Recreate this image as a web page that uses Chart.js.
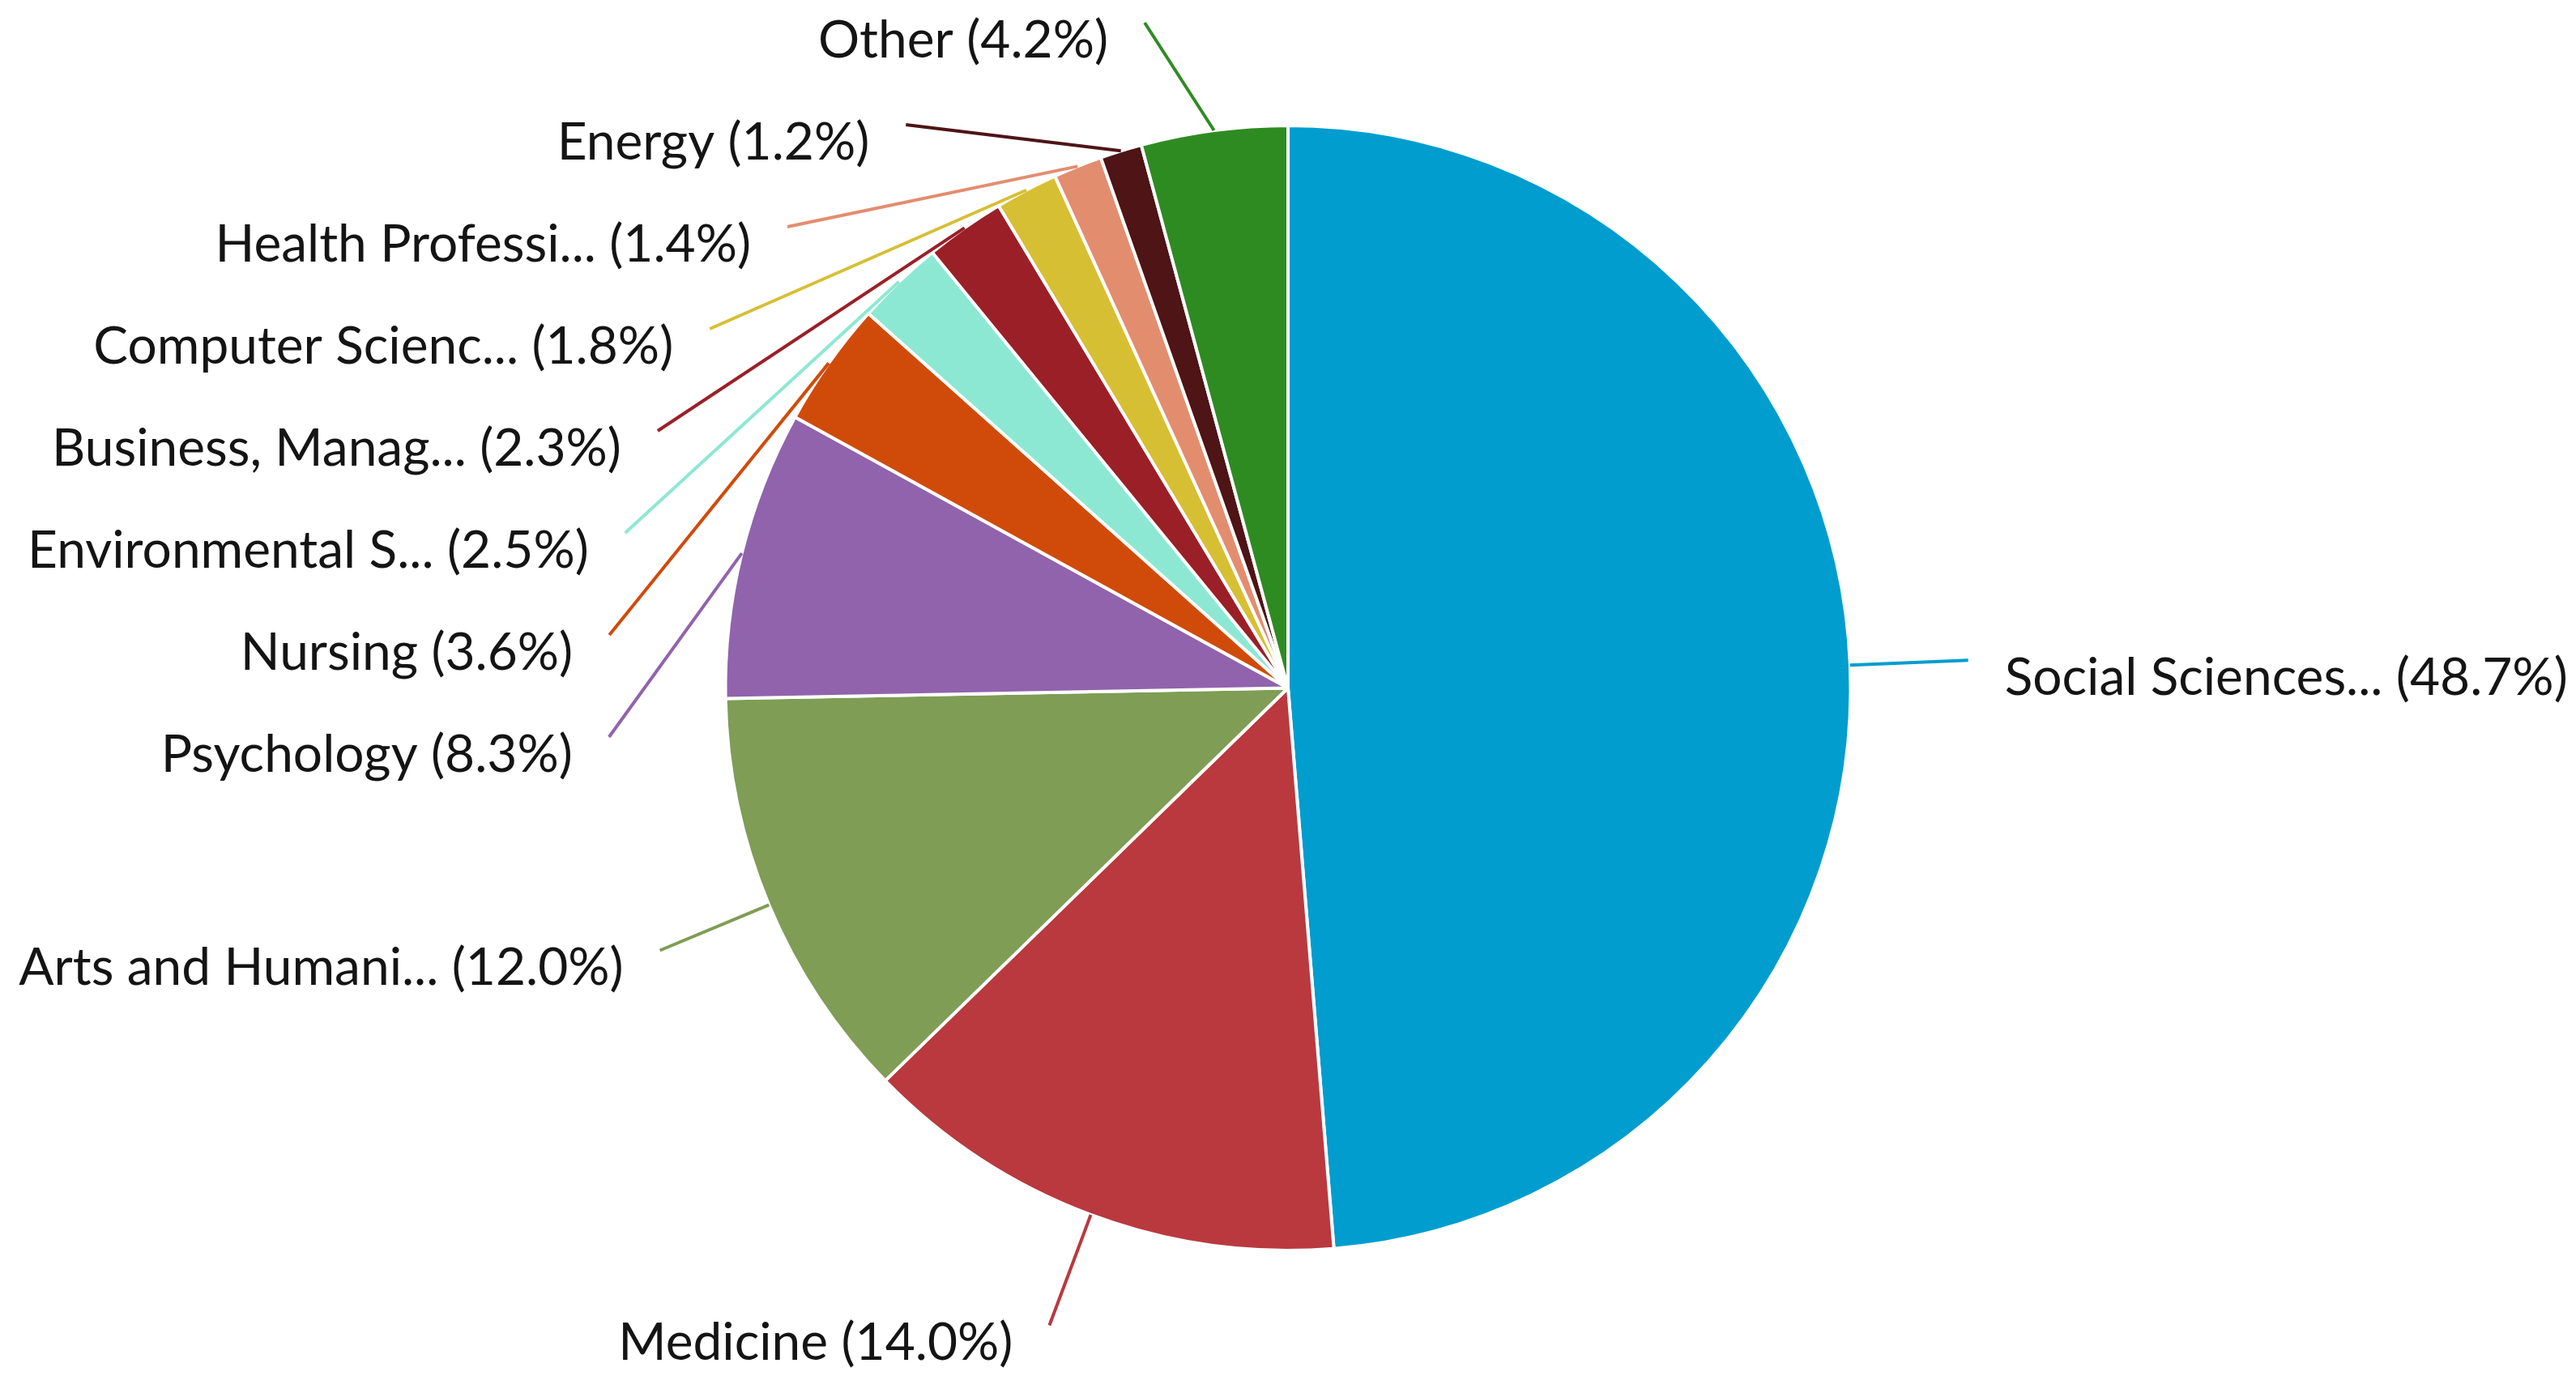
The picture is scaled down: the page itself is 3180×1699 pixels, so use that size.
<!DOCTYPE html>
<html>
<head>
<meta charset="utf-8">
<script src="https://cdn.jsdelivr.net/npm/chart.js@4"></script>
<style>
  html, body { margin: 0; padding: 0; background: #fff; overflow: hidden; }
  #subjectChart { display: block; }
</style>
</head>
<body>
<canvas id="subjectChart" width="3180" height="1699"></canvas>
<script>
// subject areas, clockwise from 12 o'clock
const labels = [
    'Social Sciences...', 'Medicine', 'Arts and Humani...', 'Psychology', 'Nursing',
    'Environmental S...', 'Business, Manag...', 'Computer Scienc...', 'Health Professi...',
    'Energy', 'Other'
];
const shares = [48.7, 14.0, 12.0, 8.3, 3.6, 2.5, 2.3, 1.8, 1.4, 1.2, 4.2];
const colors = [
    '#009dce', '#b9393e', '#7f9d55', '#9163ad', '#d04b0a',
    '#8de8d3', '#9b1f27', '#d7bf34', '#e38d6f', '#4e1416', '#2e8b22'
];

// draws "name (x.x%)" outside each slice with a leader line
const outsideLabels = {
    id: 'outsideLabels',
    afterDraw(chart) {
        const ctx = chart.ctx;
        const arcs = chart.getDatasetMeta(0).data;
        const gap = 126;       // min vertical distance between labels
        const minY = 28;
        const items = arcs.map((arc, i) => {
            const mid = (arc.startAngle + arc.endAngle) / 2;
            const r = arc.outerRadius;
            const lr = r * 1.21;
            return {
                i, arc, mid, lr,
                ex: arc.x + Math.cos(mid) * r,
                ey: arc.y + Math.sin(mid) * r,
                y: arc.y + Math.sin(mid) * lr,
                right: Math.cos(mid) >= 0
            };
        });

        [true, false].forEach(side => {
            const group = items.filter(d => d.right === side).sort((a, b) => a.y - b.y);
            let prev = -Infinity;
            group.forEach(d => {
                d.y = Math.max(d.y, prev + gap, minY);
                prev = d.y;
            });
        });

        ctx.save();
        ctx.font = '64px Lato, "Open Sans", sans-serif';
        ctx.textBaseline = 'middle';
        items.forEach(d => {
            const dy = d.y - d.arc.y;
            const dx = Math.sqrt(Math.max(d.lr * d.lr - dy * dy, 0));
            const lx = d.right ? d.arc.x + dx : d.arc.x - dx;

            ctx.strokeStyle = colors[d.i];
            ctx.lineWidth = 4;
            ctx.beginPath();
            ctx.moveTo(d.ex, d.ey);
            ctx.lineTo(lx, d.y);
            ctx.stroke();

            const text = labels[d.i] + ' (' + shares[d.i].toFixed(1) + '%)';
            ctx.fillStyle = '#141414';
            ctx.textAlign = d.right ? 'left' : 'right';
            ctx.fillText(text, d.right ? lx + 45 : lx - 45, d.y + 22);
        });
        ctx.restore();
    }
};

new Chart(document.getElementById('subjectChart'), {
    type: 'pie',
    data: {
        labels: labels,
        datasets: [{
            data: shares,
            backgroundColor: colors,
            borderColor: '#ffffff',
            borderWidth: 4
        }]
    },
    options: {
        responsive: false,
        animation: false,
        devicePixelRatio: 1,
        layout: { padding: { top: 153, bottom: 153 } },
        plugins: {
            legend: { display: false },
            tooltip: { enabled: false }
        }
    },
    plugins: [outsideLabels]
});
</script>
</body>
</html>
